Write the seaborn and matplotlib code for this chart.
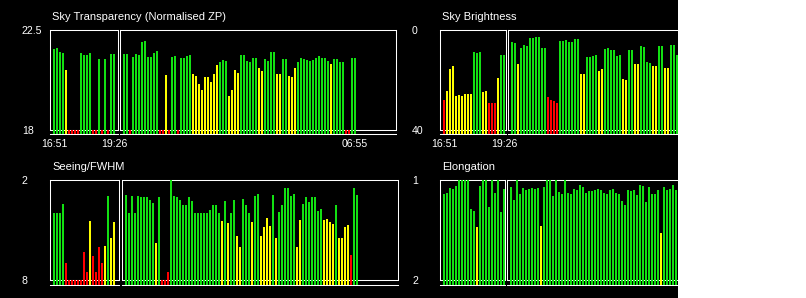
import matplotlib
matplotlib.use("Agg")
import matplotlib.pyplot as plt
from matplotlib.patches import Rectangle
import numpy as np
import pandas as pd
import seaborn as sns

# ------------------------------------------------------------------ data
# quality codes: G = good (green), Y = marginal (yellow), R = poor (red)
time_early = ["16:51", "19:26"]
time_end = "06:55"

transp_early = [21.65, 21.69, 21.51, 21.47, 20.70, 17.6, 17.6, 17.6, 17.6, 21.47, 21.38,
                21.38, 21.47, 17.6, 17.6, 21.20, 17.6, 21.20, 17.6, 21.42, 21.42]
transp_early_q = "GGGGYRRRRGGGGRRGRGRGG"
transp_night = [21.42, 21.42, 17.6, 21.29, 21.42, 21.38, 21.96, 22.00, 21.29, 21.29,
                21.47, 21.56, 17.6, 17.6, 20.48, 17.6, 21.29, 21.33, 17.6, 21.24,
                21.24, 21.33, 21.38, 20.52, 20.43, 20.07, 19.80, 20.39, 20.39, 20.16,
                20.52, 20.93, 21.06, 21.15, 21.10, 19.53, 19.80, 20.70, 20.57, 21.38,
                21.38, 21.10, 21.06, 21.24, 21.24, 20.79, 20.66, 21.20, 21.10, 21.51,
                21.51, 20.52, 20.52, 21.20, 21.20, 20.43, 20.39, 20.79, 21.06, 21.24,
                21.20, 21.15, 21.10, 21.15, 21.24, 21.33, 21.24, 21.24, 21.10, 20.97,
                21.20, 21.20, 21.06, 21.06, 17.6, 17.6, 21.24, 21.24]
transp_night_q = ("GGRGGGGGGGGG" "RRYR" "GG" "R" "GGGG" "YYYYYYYYY" "GGG" "YYYY" "GGGGGG"
                  "YY" "GGGG" "YY" "GG" "YYY" "GGGGGGGGGGG" "Y" "GGGG" "RR" "GG")

bright_early = [28.0, 24.4, 15.6, 14.4, 26.4, 26.0, 26.4, 25.6, 25.6, 25.6, 8.8,
                9.2, 8.8, 24.8, 24.4, 29.2, 29.2, 29.2, 19.2, 10.0, 10.0]
bright_early_q = "RYYYYYYYYYGGGYYRRRYGG"
bright_night = [4.8, 5.2, 13.6, 7.2, 6.0, 6.4, 3.2, 3.2, 2.8, 2.8,
                7.2, 7.2, 26.8, 28.0, 28.4, 29.2, 4.4, 4.4, 4.0, 4.8,
                4.8, 3.6, 3.6, 17.6, 17.6, 10.8, 10.8, 10.4, 10.0, 16.4,
                15.6, 7.6, 7.2, 8.0, 8.0, 10.4, 10.0, 19.6, 20.0, 8.0,
                8.0, 13.6, 13.6, 6.4, 6.8, 12.8, 13.2, 14.4, 14.4, 6.4,
                6.4, 15.2, 15.2, 6.0, 6.0, 10.0]
bright_night_q = ("GGYGGGGGGG" "GGRRRRGGGG" "GGGYYGGGGY" "YGGGGGGYYG" "GYYGGGGYYG" "GYYGGG")

seeing_early = [3.98, 3.98, 3.98, 3.44, 6.98, 8.5, 8.5, 8.5, 8.5, 8.5, 6.32,
                7.52, 4.46, 6.56, 7.52, 6.02, 6.98, 5.96, 2.96, 5.48, 4.52]
seeing_early_q = "GGGGRRRRRRRRYRRRRYGYY"
seeing_night = [2.90, 3.98, 2.96, 3.98, 2.96, 3.02, 3.02, 3.02, 3.20, 3.38,
                5.78, 3.02, 8.5, 8.5, 7.52, 2.00, 2.96, 3.02, 3.20, 3.50,
                3.50, 3.02, 3.26, 3.98, 3.98, 3.98, 3.98, 3.98,
                3.80, 3.50, 3.50, 3.98, 4.46, 3.26, 4.58, 3.98, 3.20, 5.36,
                6.02, 3.14, 3.50, 3.98, 4.52, 2.96, 2.84, 5.36, 4.82, 4.28,
                4.76, 2.90, 5.48, 3.92, 3.50, 2.48, 2.48, 2.96, 2.84, 6.02,
                4.40, 3.44, 3.02, 3.32, 3.02, 3.02, 3.86, 3.74, 4.40, 4.34,
                4.52, 4.64, 3.50, 5.48, 5.48, 4.82, 4.70, 6.50, 2.48, 2.90]
seeing_night_q = ("GGGGGGGGGGYGRRRGGGGGGGGGGGGG"
                  "GGGGYGYGGY" "YGGGYGGYYY" "YGYGGGGGGY" "YGGGGGGGYY" "YYGYYYYRGG")

elong_early = [1.14, 1.13, 1.08, 1.09, 1.06, 1.00, 1.00, 1.00, 1.00, 1.29, 1.31,
               1.47, 1.06, 1.00, 1.00, 1.27, 1.00, 1.13, 1.00, 1.32, 1.09]
elong_early_q = "GGGGGGGGGGGYGGGGGGGGG"
elong_night = [1.07, 1.20, 1.00, 1.14, 1.08, 1.10, 1.09, 1.08, 1.09, 1.08,
               1.46, 1.07, 1.00, 1.00, 1.16, 1.00, 1.12, 1.14, 1.00, 1.13,
               1.14, 1.09, 1.10, 1.05, 1.07, 1.13, 1.11, 1.11, 1.10, 1.09,
               1.10, 1.13, 1.14, 1.10, 1.09, 1.13, 1.14, 1.21, 1.25, 1.10,
               1.11, 1.10, 1.15, 1.05, 1.06, 1.22, 1.07, 1.14, 1.14, 1.10,
               1.53, 1.07, 1.10, 1.09, 1.05, 1.10]
elong_night_q = "GGGGGGGGGGYGGGGGGGGGGGGGGGGGGGGGGGGGGGGGGGGGGGGGGGYGGGGG"

PALETTE = {"G": "#12e012", "Y": "#ffff00", "R": "#ff0000"}

# ------------------------------------------------------------------ style
sns.set_theme(style="ticks", rc={
    "axes.facecolor": "black", "figure.facecolor": "black",
    "axes.edgecolor": "white", "text.color": "white",
    "xtick.color": "white", "ytick.color": "white", "axes.labelcolor": "white",
})
plt.rcParams["font.family"] = ["Liberation Sans", "DejaVu Sans"]

W, H = 806, 298
fig = plt.figure(figsize=(W / 100, H / 100), dpi=100)
LW = 0.75
STUB = 4.5      # px of bar below the box
OFF = 4         # px from box left edge to first bar centre
TICK_FS = 7.6
TITLE_FS = 8.0


def draw_box(x0, x1, top, bottom, vals, qual, vtop, vbot,
             xticks=None, xlabels=None, ylabels=None):
    base = vbot + (vbot - vtop) * STUB / (bottom - top)
    ax = fig.add_axes([x0 / W, 1 - (bottom + STUB) / H,
                       (x1 - x0) / W, (bottom + STUB - top) / H])
    lo, hi = min(vtop, vbot), max(vtop, vbot)
    df = pd.DataFrame({"slot": np.arange(len(vals)), "value": vals,
                       "quality": list(qual)})
    df["height"] = df["value"].clip(lo, hi) - base
    sns.barplot(data=df, x="slot", y="height", hue="quality", palette=PALETTE,
                dodge=False, legend=False, width=2 / 3, bottom=base,
                errorbar=None, saturation=1, linewidth=0, zorder=3, ax=ax)
    ax.set_xlim(-OFF / 3, -OFF / 3 + (x1 - x0) / 3)
    ax.set_ylim(base, vtop)
    ax.axhline(vbot, color="white", lw=LW, zorder=1)
    for s in ax.spines.values():
        s.set_linewidth(LW)
        s.set_color("white")
    ax.spines["left"].set_bounds(lo, hi)
    ax.spines["right"].set_bounds(lo, hi)
    ax.set_xlabel("")
    ax.set_ylabel("")
    ax.tick_params(length=0, labelsize=TICK_FS)
    if xticks is not None:
        ax.set_xticks(xticks, xlabels)
        ax.tick_params(axis="x", pad=3.2)
    else:
        ax.set_xticks([])
    if ylabels is not None:
        ax.set_yticks([vtop, vbot], ylabels)
        ax.tick_params(axis="y", pad=(x0 - (22 if x0 < 300 else 412)) * 0.72)
        for lab in ax.get_yticklabels():
            lab.set_horizontalalignment("left")
    else:
        ax.set_yticks([])
    return ax


# Sky transparency
draw_box(50, 118, 30, 130, transp_early, transp_early_q, 22.5, 18,
         [0, len(transp_early) - 1], time_early, ["22.5", "18"])
draw_box(120, 396, 30, 130, transp_night, transp_night_q, 22.5, 18,
         [len(transp_night) - 1], [time_end])
# Sky brightness
draw_box(440, 506, 30, 130, bright_early, bright_early_q, 0, 40,
         [0, len(bright_early) - 1], time_early, ["0", "40"])
draw_box(508, 784, 30, 130, bright_night, bright_night_q, 0, 40)
# Seeing
draw_box(50, 119, 180, 280, seeing_early, seeing_early_q, 2, 8,
         ylabels=["2", "8"])
draw_box(122, 398, 180, 280, seeing_night, seeing_night_q, 2, 8)
# Elongation
draw_box(440, 505, 180, 280, elong_early, elong_early_q, 1, 2,
         ylabels=["1", "2"])
draw_box(507, 783, 180, 280, elong_night, elong_night_q, 1, 2)

for x, y, t in [(52, 17, "Sky Transparency (Normalised ZP)"), (442, 17, "Sky Brightness"),
                (52, 167, "Seeing/FWHM"), (442, 167, "Elongation")]:
    fig.text(x / W, 1 - y / H, t, ha="left", va="center", fontsize=TITLE_FS, color="white")

fig.add_artist(Rectangle((678 / W, 0), 1 - 678 / W, 1, transform=fig.transFigure,
                         facecolor="white", edgecolor="none", zorder=10))

fig.savefig("out.png", dpi=100, facecolor="black")
